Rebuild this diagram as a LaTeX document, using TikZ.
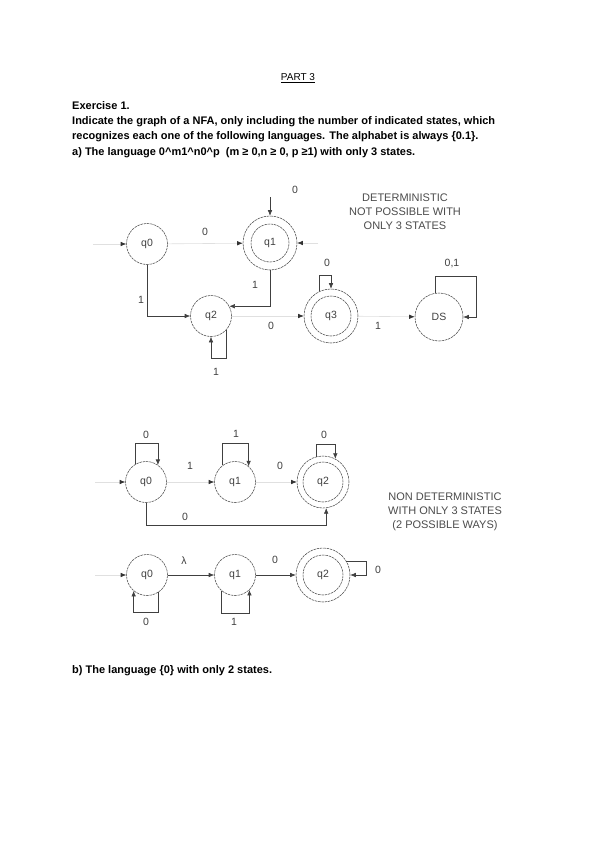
\documentclass[tikz,border=0pt]{standalone}
\usepackage{fontspec}
\setmainfont{Liberation Sans}
\usetikzlibrary{arrows.meta}
\begin{document}
\begin{tikzpicture}[x=1pt,y=-1pt,
  st/.style={circle, draw=black!70, dash pattern=on 2.5pt off 0.8pt, line width=0.55pt, minimum size=41pt, inner sep=0pt, font=\fontsize{10.5}{12}\selectfont, text=black!75},
  acc/.style={st, minimum size=54pt},
  innerring/.style={draw=black!70, dash pattern=on 2.5pt off 0.8pt, line width=0.55pt},
  lbl/.style={font=\fontsize{10.5}{12}\selectfont, text=black!75, inner sep=0pt},
  note/.style={font=\fontsize{11}{14.2}\selectfont, text=black!70, align=center, inner sep=0pt},
  edge/.style={draw=black!75, line width=0.55pt, -{Latex[length=5.5pt,width=4.5pt]}},
  faint/.style={draw=black!12, line width=0.6pt, -{Latex[length=5.5pt,width=4.5pt,color=black!80]}},
  head/.style={font=\bfseries\fontsize{11}{13}\selectfont, anchor=west, inner sep=0pt}
]
\useasboundingbox (0,0) rectangle (600,848);
\fill[white] (0,0) rectangle (600,848);

% ---------- text ----------
\node[font=\fontsize{10}{12}\selectfont, inner sep=0pt] (title) at (298,78) {\underline{PART 3}};
\node[head] (ex) at (72,106) {Exercise 1.};
\node[head] (l1) at (72,122) {Indicate the graph of a NFA, only including the number of indicated states, which};
\node[head] (l2) at (72,137) {recognizes each one of the following languages. The alphabet is always \{0.1\}.};
\node[head] (l3) at (72,153) {a) The language 0\textasciicircum m1\textasciicircum n0\textasciicircum p~~(m ≥ 0,n ≥ 0, p ≥1) with only 3 states.};
\node[head] (lb) at (72,671) {b) The language \{0\} with only 2 states.};

% ---------- diagram 1 ----------
\node[st] (A0) at (147,244) {q0};
\node[acc] (A1) at (270,243) {q1};
\draw[innerring] (A1.center) circle[radius=19pt];
\node[st] (A2) at (211,316) {q2};
\node[acc] (A3) at (331,316) {q3};
\draw[innerring] (A3.center) circle[radius=20pt];
\node[st, minimum size=48pt] (DS) at (439,317) {DS};

\coordinate (A0in) at (93,244);
\coordinate (A1top) at (270,197);
\coordinate (A1r) at (318,243);
\coordinate (DSc) at (476,276);

\draw[faint] (A0in) -- (A0);
\draw[faint] (A0) -- (A1);
\draw[edge] (A1top) -- (A1);
\draw[faint] (A1r) -- (A1);
\draw[edge] (A0.south) |- (A2.west);
\draw[edge] (A1.south) |- (A2.28);
\draw[edge] (A2.-42) -- ++(0,28) -| (A2.south);
\draw[faint] (A2) -- (A3);
\draw[edge] (A3.116) -- ++(0,-16) -| (A3.north);
\draw[faint] (A3) -- (DS);
\draw[edge] (DS.100) |- (DSc) |- (DS.east);

\node[lbl] (la1) at (295,190) {0};
\node[lbl] (la2) at (205,232) {0};
\node[lbl] (la3) at (255,285) {1};
\node[lbl] (la4) at (141,300) {1};
\node[lbl] (la5) at (216,372) {1};
\node[lbl] (la6) at (271,326) {0};
\node[lbl] (la7) at (327,263) {0};
\node[lbl] (la8) at (378,326) {1};
\node[lbl] (la9) at (452,264) {0,1};
\node[note] (n1) at (405,212) {DETERMINISTIC\\NOT POSSIBLE WITH\\ONLY 3 STATES};

% ---------- diagram 2 ----------
\node[st] (B0) at (146,482) {q0};
\node[st] (B1) at (235,482) {q1};
\node[acc, minimum size=52pt] (B2) at (323,482) {q2};
\draw[innerring] (B2.center) circle[radius=20pt];
\coordinate (B0in) at (95,482);

\draw[faint] (B0in) -- (B0);
\draw[faint] (B0) -- (B1);
\draw[faint] (B1) -- (B2);
\draw[edge] (B0.122) -- ++(0,-21) -| (B0.55);
\draw[edge] (B1.127) -- ++(0,-22) -| (B1.49);
\draw[edge] (B2.105) -- ++(0,-12) -| (B2.62);
\draw[edge] (B0.south) -- ++(0,22) -| (B2.-83);

\node[lbl] (lb1) at (146,435) {0};
\node[lbl] (lb2) at (236,434) {1};
\node[lbl] (lb3) at (324,435) {0};
\node[lbl] (lb4) at (190,466) {1};
\node[lbl] (lb5) at (280,466) {0};
\node[lbl] (lb6) at (185,517) {0};
\node[note] (n2) at (445,512) {NON DETERMINISTIC\\WITH ONLY 3 STATES\\(2 POSSIBLE WAYS)};

% ---------- diagram 3 ----------
\node[st] (C0) at (147,575) {q0};
\node[st] (C1) at (235,575) {q1};
\node[acc] (C2) at (323,575) {q2};
\draw[innerring] (C2.center) circle[radius=20pt];
\coordinate (C0in) at (95,575);

\draw[faint] (C0in) -- (C0);
\draw[edge] (C0) -- (C1);
\draw[edge] (C1) -- (C2);
\draw[edge] (C0.-57) -- ++(0,20) -| (C0.-130);
\draw[edge] (C1.-130) -- ++(0,22) -| (C1.-46);
\draw[edge] (C2.31) -- ++(20,0) |- (C2.east);

\node[lbl] (lc1) at (184,561) {λ};
\node[lbl] (lc2) at (275,560) {0};
\node[lbl] (lc3) at (146,622) {0};
\node[lbl] (lc4) at (234,622) {1};
\node[lbl] (lc5) at (378,570) {0};
\end{tikzpicture}
\end{document}
